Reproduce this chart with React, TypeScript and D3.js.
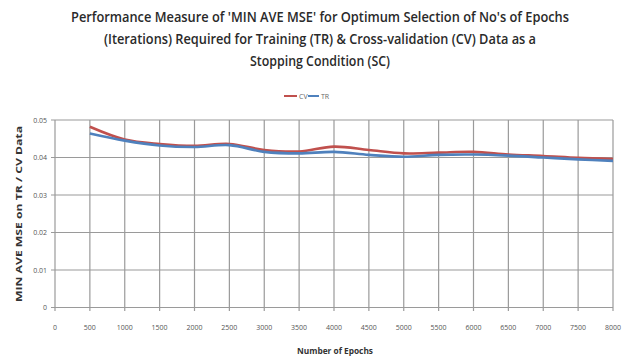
import React from "react";
import * as d3 from "d3";

const epochs = [500, 1000, 1500, 2000, 2500, 3000, 3500, 4000, 4500, 5000, 5500, 6000, 6500, 7000, 7500, 8000];
const cvValues = [0.0482, 0.0448, 0.0436, 0.0431, 0.0436, 0.0420, 0.0416, 0.0429, 0.0420, 0.0411, 0.0413, 0.0415, 0.0408, 0.0404, 0.0399, 0.0396];
const trValues = [0.0464, 0.0445, 0.0432, 0.0428, 0.0433, 0.0415, 0.0411, 0.0415, 0.0407, 0.0402, 0.0407, 0.0408, 0.0405, 0.0400, 0.0395, 0.0391];
const xTicks = [0, 500, 1000, 1500, 2000, 2500, 3000, 3500, 4000, 4500, 5000, 5500, 6000, 6500, 7000, 7500, 8000];
const yTicks = [0, 0.01, 0.02, 0.03, 0.04, 0.05];
const yTickLabels = ["0", "0.01", "0.02", "0.03", "0.04", "0.05"];
const titleLines = [
  "Performance Measure of 'MIN AVE MSE' for Optimum Selection of No's of Epochs",
  "(Iterations) Required for Training (TR) & Cross-validation  (CV) Data as a",
  "Stopping Condition  (SC)",
];
const series = [
  { name: "CV", values: cvValues, color: "#C0504D" },
  { name: "TR", values: trValues, color: "#4F81BD" },
];

const W = 631;
const H = 363;
const font = "'Liberation Sans Narrow', 'Open Sans', 'DejaVu Sans', sans-serif";

export default function App() {
  const x = d3.scaleLinear().domain([0, 8000]).range([55, 613]);
  const y = d3.scaleLinear().domain([0, 0.05]).range([307.5, 120]);
  const line = d3
    .line<number>()
    .x((_, i) => x(epochs[i]))
    .y((d) => y(d))
    .curve(d3.curveCatmullRom.alpha(0.5));

  const titleWidths = [498, 432, 140];
  const legendY = 96;
  const gridColor = "#9a9a9a";

  return (
    <svg width={W} height={H} style={{ position: "absolute", left: 0, top: 0, background: "#fff" }}>
      <rect x={0} y={0} width={W} height={H} fill="#fff" />
      {titleLines.map((t, i) => (
        <text
          key={i}
          x={320}
          y={22 + i * 22}
          textAnchor="middle"
          fontFamily={font}
          fontSize={14}
          fontWeight={600}
          fill="#2a2a2a"
          textLength={titleWidths[i]}
          lengthAdjust="spacingAndGlyphs"
        >
          {t}
        </text>
      ))}
      {/* legend */}
      <line x1={284} x2={297} y1={legendY} y2={legendY} stroke={series[0].color} strokeWidth={2} />
      <text x={299} y={legendY + 2.5} fontFamily={font} fontSize={7} fill="#666">CV</text>
      <line x1={308} x2={319} y1={legendY} y2={legendY} stroke={series[1].color} strokeWidth={2} />
      <text x={321} y={legendY + 2.5} fontFamily={font} fontSize={7} fill="#666">TR</text>

      {/* grid */}
      <g>
        {yTicks.map((t) => (
          <line key={"gy" + t} x1={51} x2={613} y1={y(t)} y2={y(t)} stroke={gridColor} strokeWidth={1.2} />
        ))}
        {xTicks.map((t) => (
          <line key={"gx" + t} x1={x(t)} x2={x(t)} y1={120} y2={311} stroke={gridColor} strokeWidth={1.2} />
        ))}
      </g>

      {yTicks.map((t, i) => (
        <text key={"yl" + t} x={47} y={y(t) + 2.5} textAnchor="end" fontFamily={font} fontSize={7} fill="#555">
          {yTickLabels[i]}
        </text>
      ))}
      {xTicks.map((t) => (
        <text key={"xl" + t} x={x(t)} y={330} textAnchor="middle" fontFamily={font} fontSize={7} fill="#555">
          {t}
        </text>
      ))}

      {series.map((s) => (
        <path key={s.name} d={line(s.values) || ""} fill="none" stroke={s.color} strokeWidth={2.6} />
      ))}

      <text
        x={335}
        y={354}
        textAnchor="middle"
        fontFamily={font}
        fontSize={8}
        fontWeight="bold"
        fill="#333"
        textLength={76}
        lengthAdjust="spacingAndGlyphs"
      >
        Number of Epochs
      </text>
      <text
        transform={`translate(22, 214) rotate(-90)`}
        textAnchor="middle"
        fontFamily={font}
        fontSize={8}
        fontWeight="bold"
        fill="#333"
        textLength={176}
        lengthAdjust="spacingAndGlyphs"
      >
        MIN  AVE  MSE  on  TR / CV  Data
      </text>
    </svg>
  );
}
